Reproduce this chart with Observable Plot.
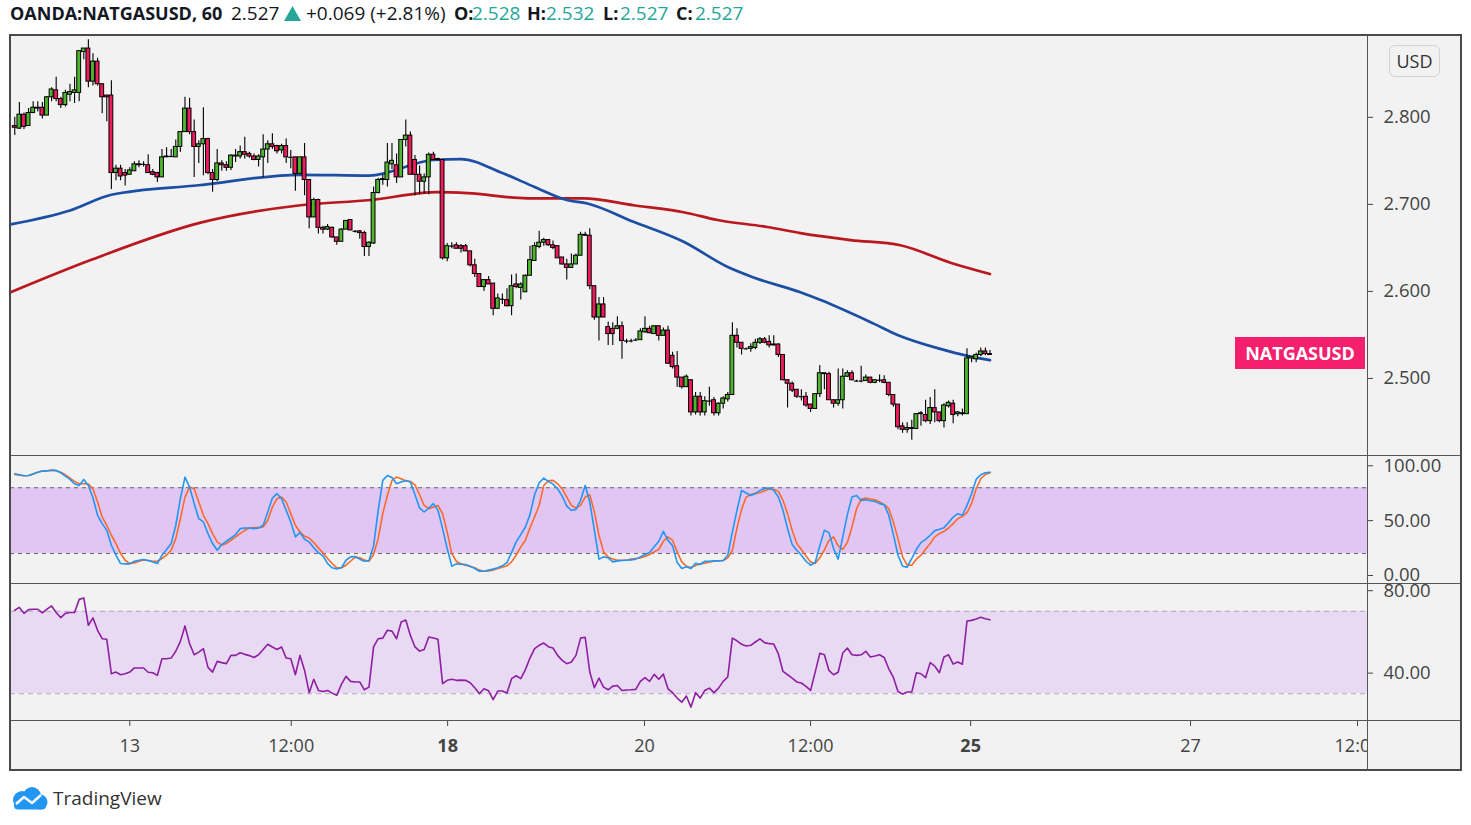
<!DOCTYPE html>
<html>
<head>
<meta charset="utf-8">
<script src="https://cdn.jsdelivr.net/npm/d3@7"></script>
<script src="https://cdn.jsdelivr.net/npm/@observablehq/plot@0.6"></script>
<style>
  html, body { margin: 0; padding: 0; background: #ffffff; }
  #root { position: relative; width: 1471px; height: 825px; font-family: "Open Sans", sans-serif; overflow: hidden; }
  #hdr { position: absolute; left: 0; top: 0; width: 900px; height: 30px; font-size: 19px; color: #131722; white-space: nowrap; }
  #hdr span { position: absolute; top: 0px; line-height: 26px; }
  #hdr .b { font-weight: 700; font-size: 18px; }
  #hdr .t { color: #26a69a; }
  #tri { position: absolute; left: 284px; top: 6px; }
  .abs { position: absolute; }
  .pane svg { display: block; overflow: visible; }
  #bg { left: 9px; top: 34px; width: 1453px; height: 737px; background: #f2f2f2; }
  #frame { left: 9px; top: 34px; width: 1453px; height: 737px; border: 2px solid #4a4a4a; box-sizing: border-box; pointer-events: none; }
  .hsep { height: 1px; background: #555; left: 10px; width: 1451px; }
  .vsep { width: 1px; background: #555; top: 35px; height: 735px; left: 1367px; }
  #usd { left: 1389px; top: 45px; width: 51px; height: 32px; border: 1px solid #d3d3d8; border-radius: 6px; box-sizing: border-box;
         font-size: 18px; color: #333; text-align: center; line-height: 30px; background: #f2f2f2; }
  #sym { height: 32px; background: #f5206d; color: #fff; font-weight: 700; font-size: 18px; line-height: 32px; padding: 0 8px; box-sizing: border-box; text-align: center; }
  #logo { left: 10px; top: 785px; display: flex; align-items: center; font-size: 19px; color: #333; }
</style>
</head>
<body>
<div id="root">
  <div id="hdr">
    <svg id="tri" width="17" height="15" viewBox="0 0 17 15"><polygon points="8.5,0 17,15 0,15" fill="#26a69a"/></svg>
  </div>
  <div id="bg" class="abs"></div>
  <div id="mainPane" class="abs pane" style="left:10px; top:35px;"></div>
  <div id="stochPane" class="abs pane" style="left:10px; top:455px;"></div>
  <div id="rsiPane" class="abs pane" style="left:10px; top:583px;"></div>
  <div id="xPane" class="abs pane" style="left:10px; top:720px; width:1357px; height:50px; overflow:hidden;"></div>
  <div class="abs hsep" style="top:455px;"></div>
  <div class="abs hsep" style="top:583px;"></div>
  <div class="abs hsep" style="top:720px;"></div>
  <div class="abs vsep"></div>
  <div id="frame" class="abs"></div>
  <div id="usd" class="abs">USD</div>
  <div id="sym" class="abs">NATGASUSD</div>
  <div id="logo" class="abs">
    <svg width="38" height="24" viewBox="0 0 38 24">
      <circle cx="12" cy="14" r="9" fill="#2196f3"/>
      <circle cx="22" cy="10" r="9" fill="#2196f3"/>
      <circle cx="30" cy="16" r="7.5" fill="#2196f3"/>
      <rect x="4" y="15" width="32" height="8.5" rx="4" fill="#2196f3"/>
      <polyline points="6,18 14,11 22,17 31,9" fill="none" stroke="#fff" stroke-width="2.4" stroke-linejoin="round"/>
    </svg>
    <span style="margin-left:5px;">TradingView</span>
  </div>
</div>
<script>
// ---------------- DATA ----------------
const symbol = "OANDA:NATGASUSD, 60";
const changeText = "+0.069 (+2.81%)";

const open = [2.790,2.787,2.803,2.790,2.805,2.810,2.811,2.802,2.823,2.831,
2.821,2.814,2.826,2.828,2.828,2.875,2.879,2.841,2.864,2.838,
2.825,2.825,2.736,2.741,2.736,2.734,2.738,2.745,2.746,2.745,
2.737,2.736,2.731,2.754,2.755,2.754,2.766,2.783,2.810,2.783,
2.766,2.769,2.775,2.736,2.728,2.747,2.745,2.742,2.756,2.755,
2.760,2.758,2.755,2.751,2.754,2.763,2.769,2.767,2.762,2.767,
2.754,2.754,2.735,2.754,2.728,2.685,2.705,2.673,2.671,2.673,
2.662,2.657,2.671,2.682,2.669,2.669,2.667,2.651,2.655,2.713,
2.728,2.728,2.746,2.745,2.731,2.774,2.779,2.751,2.734,2.726,
2.731,2.757,2.751,2.751,2.638,2.652,2.653,2.652,2.652,2.646,
2.630,2.620,2.605,2.613,2.609,2.580,2.591,2.590,2.583,2.608,
2.604,2.599,2.618,2.635,2.651,2.656,2.659,2.653,2.652,2.639,
2.631,2.627,2.631,2.641,2.665,2.664,2.606,2.570,2.585,2.559,
2.557,2.557,2.560,2.543,2.543,2.544,2.544,2.553,2.557,2.551,
2.560,2.549,2.555,2.526,2.514,2.501,2.490,2.498,2.461,2.479,
2.461,2.474,2.475,2.460,2.471,2.476,2.481,2.549,2.541,2.534,
2.534,2.535,2.541,2.545,2.542,2.538,2.539,2.527,2.498,2.494,
2.487,2.479,2.479,2.470,2.465,2.482,2.506,2.505,2.475,2.471,
2.475,2.502,2.506,2.497,2.497,2.497,2.501,2.495,2.498,2.498,
2.495,2.481,2.470,2.445,2.441,2.442,2.442,2.459,2.458,2.451,
2.466,2.461,2.451,2.468,2.471,2.459,2.459,2.459,2.523,2.522,
2.527,2.531,2.528];

const high = [2.800,2.817,2.805,2.810,2.818,2.818,2.817,2.824,2.834,2.846,
2.823,2.831,2.838,2.846,2.876,2.879,2.889,2.873,2.868,2.839,
2.825,2.842,2.745,2.745,2.740,2.742,2.749,2.750,2.749,2.757,
2.740,2.737,2.763,2.765,2.763,2.774,2.783,2.823,2.822,2.797,
2.773,2.811,2.776,2.740,2.763,2.750,2.749,2.757,2.763,2.767,
2.777,2.760,2.758,2.757,2.780,2.773,2.781,2.768,2.769,2.775,
2.762,2.754,2.754,2.770,2.728,2.707,2.706,2.675,2.677,2.674,
2.662,2.672,2.681,2.682,2.670,2.670,2.669,2.657,2.720,2.730,
2.734,2.770,2.770,2.758,2.774,2.797,2.783,2.756,2.744,2.735,
2.759,2.760,2.753,2.751,2.655,2.656,2.656,2.654,2.654,2.646,
2.637,2.620,2.613,2.617,2.609,2.597,2.597,2.603,2.619,2.620,
2.610,2.619,2.652,2.656,2.669,2.661,2.659,2.658,2.652,2.639,
2.637,2.643,2.643,2.668,2.668,2.672,2.606,2.593,2.593,2.565,
2.564,2.571,2.565,2.545,2.545,2.546,2.557,2.571,2.560,2.560,
2.560,2.558,2.560,2.530,2.531,2.501,2.504,2.498,2.484,2.484,
2.479,2.490,2.478,2.472,2.479,2.484,2.564,2.557,2.541,2.535,
2.540,2.545,2.547,2.547,2.549,2.549,2.540,2.527,2.498,2.496,
2.487,2.487,2.484,2.470,2.482,2.515,2.506,2.507,2.475,2.511,
2.511,2.509,2.509,2.498,2.514,2.504,2.501,2.498,2.504,2.503,
2.495,2.481,2.470,2.449,2.449,2.452,2.459,2.462,2.475,2.478,
2.487,2.461,2.471,2.474,2.475,2.462,2.465,2.534,2.525,2.529,
2.535,2.535,2.532];

const low = [2.779,2.786,2.786,2.790,2.804,2.806,2.798,2.802,2.818,2.818,
2.810,2.812,2.818,2.816,2.818,2.866,2.834,2.836,2.836,2.804,
2.795,2.717,2.727,2.727,2.721,2.734,2.738,2.742,2.743,2.736,
2.733,2.725,2.731,2.754,2.755,2.754,2.760,2.783,2.780,2.731,
2.747,2.733,2.734,2.714,2.726,2.738,2.738,2.739,2.748,2.752,
2.752,2.753,2.750,2.743,2.731,2.747,2.763,2.758,2.758,2.747,
2.741,2.715,2.735,2.710,2.672,2.685,2.666,2.666,2.670,2.661,
2.653,2.657,2.671,2.670,2.667,2.660,2.640,2.640,2.654,2.712,
2.722,2.720,2.740,2.724,2.731,2.766,2.734,2.710,2.711,2.712,
2.711,2.751,2.750,2.636,2.634,2.649,2.649,2.644,2.646,2.628,
2.616,2.605,2.600,2.608,2.572,2.580,2.585,2.582,2.572,2.603,
2.590,2.599,2.618,2.635,2.649,2.652,2.652,2.648,2.638,2.630,
2.613,2.627,2.631,2.641,2.663,2.602,2.567,2.543,2.570,2.538,
2.538,2.556,2.522,2.540,2.541,2.543,2.544,2.552,2.551,2.551,
2.543,2.549,2.516,2.511,2.490,2.488,2.490,2.457,2.458,2.457,
2.457,2.468,2.457,2.457,2.465,2.473,2.481,2.535,2.527,2.533,
2.530,2.533,2.539,2.540,2.535,2.537,2.524,2.497,2.466,2.484,
2.477,2.474,2.467,2.461,2.465,2.478,2.487,2.475,2.466,2.468,
2.465,2.501,2.497,2.496,2.495,2.497,2.494,2.494,2.495,2.494,
2.479,2.467,2.441,2.437,2.437,2.429,2.442,2.445,2.449,2.447,
2.449,2.449,2.443,2.466,2.448,2.456,2.457,2.459,2.518,2.518,
2.525,2.526,2.527];

const close = [2.788,2.803,2.789,2.805,2.811,2.811,2.802,2.823,2.832,2.821,
2.814,2.828,2.829,2.831,2.876,2.879,2.841,2.864,2.838,2.823,
2.823,2.736,2.741,2.732,2.733,2.739,2.746,2.746,2.746,2.736,
2.734,2.731,2.754,2.755,2.755,2.766,2.783,2.810,2.783,2.766,
2.769,2.775,2.736,2.728,2.747,2.745,2.742,2.756,2.755,2.760,
2.757,2.755,2.751,2.755,2.763,2.769,2.766,2.761,2.767,2.754,
2.754,2.735,2.754,2.728,2.685,2.705,2.673,2.671,2.674,2.662,
2.657,2.671,2.681,2.670,2.669,2.667,2.651,2.656,2.713,2.728,
2.729,2.748,2.750,2.731,2.774,2.779,2.734,2.734,2.726,2.731,
2.757,2.751,2.752,2.638,2.652,2.652,2.649,2.649,2.646,2.630,
2.620,2.605,2.613,2.608,2.580,2.592,2.591,2.583,2.606,2.605,
2.608,2.618,2.636,2.652,2.656,2.659,2.653,2.650,2.638,2.631,
2.627,2.631,2.641,2.665,2.664,2.606,2.570,2.585,2.570,2.551,
2.551,2.560,2.543,2.543,2.543,2.544,2.554,2.557,2.552,2.560,
2.549,2.555,2.517,2.513,2.501,2.490,2.502,2.461,2.479,2.461,
2.474,2.474,2.460,2.471,2.477,2.481,2.549,2.541,2.534,2.534,
2.536,2.541,2.545,2.541,2.538,2.539,2.527,2.498,2.494,2.486,
2.479,2.479,2.469,2.465,2.482,2.506,2.505,2.475,2.471,2.475,
2.502,2.506,2.498,2.497,2.497,2.501,2.495,2.498,2.498,2.495,
2.481,2.470,2.444,2.441,2.443,2.443,2.459,2.460,2.451,2.466,
2.461,2.451,2.469,2.472,2.458,2.461,2.460,2.523,2.525,2.527,
2.531,2.528,2.527];

// moving averages (read at sample bars)
const maBlueBar = [-0.9,12,21,40,62,77,91,97,106,113,120,124.5,134.5,145.4,155,160.6,170.8,175.2,186.7,191.9,201.2,207.1,212];
const maBlueVal = [2.677,2.693,2.711,2.722,2.734,2.733,2.751,2.752,2.736,2.720,2.705,2.701,2.680,2.657,2.628,2.616,2.599,2.590,2.563,2.550,2.534,2.526,2.521];
const maRedBar = [-0.9,16.5,40.4,62.1,77.3,91.9,98.4,111.4,123.6,134.5,145.4,152.8,163.6,170.8,181.7,192.5,203.4,212];
const maRedVal = [2.599,2.636,2.679,2.699,2.705,2.714,2.713,2.707,2.707,2.699,2.691,2.682,2.674,2.667,2.659,2.653,2.633,2.620];

// stochastic %K and %D
const stochK = [92.7,91.8,90.9,91.2,92.7,94.2,95.2,95.2,96.1,95.8,
93.6,90.6,87.6,83.6,82.1,87.6,82.1,70.6,54.9,47.3,
41.2,27.6,18.5,10.9,10.6,10.6,13.0,13.9,14.6,13.6,
12.4,10.9,18.5,23.6,29.1,45.8,70.0,89.7,80.6,65.5,
51.8,48.8,38.2,29.1,23.0,28.2,31.2,34.2,37.3,42.7,
43.3,43.3,42.7,43.3,45.8,57.9,70.6,74.6,70.0,59.4,
48.8,35.2,39.1,33.0,30.6,25.2,20.9,17.9,10.9,7.0,
6.0,7.0,13.9,17.0,17.3,14.9,13.0,13.6,27.0,59.4,
86.7,91.2,89.4,83.6,85.2,86.7,85.2,73.6,61.5,57.9,
61.5,65.5,59.4,42.7,24.6,8.5,10.6,10.3,10.0,8.5,
6.4,3.9,3.9,4.9,5.8,7.0,8.8,11.8,20.9,30.6,
37.3,44.2,55.5,73.6,84.6,88.8,85.8,83.3,79.1,72.4,
63.3,59.4,60.3,68.5,82.1,67.0,41.2,14.9,17.0,16.1,
12.4,13.3,13.6,13.9,14.2,14.9,17.0,19.1,20.9,26.1,
31.2,40.3,32.1,27.0,11.8,6.4,7.9,6.4,11.2,10.0,
13.0,13.0,13.3,13.3,13.6,18.5,39.7,59.4,77.6,75.2,
73.0,74.6,77.6,79.4,79.7,77.6,71.5,59.4,42.7,28.2,
23.0,18.5,13.0,9.4,11.8,27.0,41.2,39.1,24.6,14.9,
35.2,55.5,71.5,73.0,68.5,69.1,68.2,67.6,65.5,64.6,
54.9,37.3,18.5,8.5,7.6,15.5,23.9,30.0,33.0,36.7,
40.9,42.1,43.6,48.2,53.3,56.4,54.9,63.9,74.6,87.6,
91.8,93.6,94.2];

const stochD = [92.1,91.5,90.9,91.2,92.4,94.2,95.2,95.5,95.8,95.5,
94.2,91.8,88.8,85.8,83.6,83.6,83.3,79.1,67.0,53.3,
45.8,36.7,29.1,20.0,13.9,10.9,11.5,13.0,14.2,13.6,
13.0,13.0,15.5,18.5,23.0,33.6,51.8,71.5,80.6,79.1,
67.0,54.9,47.3,38.2,30.6,27.6,29.1,32.1,35.2,38.2,
41.2,43.3,43.6,43.6,44.2,50.3,62.4,70.0,71.5,67.0,
56.4,45.8,39.7,35.8,34.2,30.0,25.2,20.6,15.5,10.9,
7.0,7.0,9.4,13.0,16.7,16.1,14.2,13.0,19.1,33.6,
56.4,73.0,86.7,89.7,88.2,86.1,85.8,82.7,73.6,63.9,
60.9,62.4,63.9,56.4,39.7,20.0,13.0,10.6,9.4,8.2,
7.0,4.9,3.9,4.2,4.9,6.4,7.6,8.8,12.4,18.5,
26.1,32.1,43.3,53.3,63.9,82.1,86.4,86.7,83.6,79.1,
71.5,63.9,61.5,63.9,71.5,73.6,57.9,36.7,21.5,17.0,
14.9,13.9,13.9,13.9,14.9,15.5,16.1,17.3,19.1,21.5,
23.9,31.2,35.2,32.1,21.5,12.4,8.5,7.3,9.1,10.6,
11.2,12.4,13.0,13.3,13.6,16.1,23.0,43.3,60.3,71.5,
73.9,74.9,75.5,77.3,78.8,78.5,76.7,68.5,56.4,41.2,
29.1,23.6,17.9,12.4,10.9,16.1,23.3,32.1,35.2,27.0,
23.9,30.0,44.2,60.9,69.4,70.6,69.7,69.1,67.0,64.6,
60.9,48.8,33.6,17.0,9.4,9.4,14.9,18.5,23.9,29.1,
35.2,38.2,40.3,43.3,47.3,51.8,53.9,57.3,65.5,79.1,
88.2,92.1,93.6];

const rsi = [70.5,71.9,69.0,70.8,71.0,71.0,69.2,71.1,72.6,69.4,
66.9,69.0,69.4,69.4,75.8,76.5,63.2,66.8,60.8,56.7,
56.4,39.7,40.5,39.2,39.7,40.5,42.5,42.5,42.5,40.4,
40.2,38.9,47.0,47.0,47.3,50.6,55.4,62.9,54.3,48.9,
50.2,51.9,42.8,40.5,45.7,45.1,44.6,48.6,48.6,49.9,
49.1,48.5,47.6,48.9,51.5,54.0,52.7,51.5,52.7,47.3,
47.0,39.2,48.6,41.3,30.5,37.0,31.6,31.1,31.6,30.3,
29.2,34.5,38.4,36.0,35.7,35.7,31.9,33.2,52.7,56.7,
57.0,60.8,60.4,56.7,64.8,65.8,58.3,52.7,50.7,51.5,
57.5,57.0,56.4,34.9,36.5,37.0,36.5,36.6,36.5,35.3,
32.9,30.0,32.4,31.4,27.1,31.3,31.3,30.3,37.3,38.7,
37.3,41.7,47.3,51.9,53.5,54.6,52.8,52.2,48.6,46.2,
44.6,45.4,48.6,57.0,57.4,40.5,32.9,37.6,33.2,31.9,
33.7,34.0,31.6,31.8,31.9,32.1,36.0,37.8,36.0,39.4,
37.0,39.5,32.4,30.5,27.9,25.9,28.9,23.5,30.5,27.9,
31.6,32.7,30.5,32.7,36.0,38.1,57.0,55.7,54.0,53.2,
53.5,55.1,56.6,54.8,54.3,54.1,49.3,40.8,39.2,37.6,
35.7,35.2,33.6,31.6,40.5,49.6,48.9,41.3,39.2,40.4,
49.8,52.2,48.9,48.6,48.9,50.6,47.8,48.3,48.9,47.6,
42.1,37.9,31.1,29.8,30.8,30.8,40.2,39.7,37.8,45.1,
43.4,40.2,47.8,48.9,44.4,45.4,44.3,65.3,65.6,66.3,
67.1,66.4,65.9];

const stochBand = [20, 80];
const rsiBand = [30, 70];

const priceTicks = [2.5, 2.6, 2.7, 2.8];
const stochTicks = [0, 50, 100];
const rsiTicks = [40, 80];

const xTickBar = [25.0, 60.1, 94.1, 136.9, 173.0, 207.8, 255.6, 291.9];
const xTickLabel = ["13", "12:00", "18", "20", "12:00", "25", "27", "12:00"];
const xTickBold = [false, false, true, false, false, true, false, false];

// ---------------- BUILD ----------------
const bars = open.map((o, i) => ({i, open: o, high: high[i], low: low[i], close: close[i]}));
const dojis = bars.filter(d => Math.abs(d.close - d.open) < 0.0008);
const blueMA = maBlueBar.map((b, k) => ({i: b, v: maBlueVal[k]}));
const redMA = maRedBar.map((b, k) => ({i: b, v: maRedVal[k]}));
const kPts = stochK.map((v, i) => ({i, v}));
const dPts = stochD.map((v, i) => ({i, v}));
const rPts = rsi.map((v, i) => ({i, v}));

const last = bars[bars.length - 1];
// header pieces: [text, class, left]
const hdrParts = [
  [symbol, "b", 10],
  [last.close.toFixed(3), "", 231],
  [changeText, "", 306],
  ["O:", "b", 454],
  [last.open.toFixed(3), "t", 472],
  ["H:", "b", 527],
  [last.high.toFixed(3), "t", 546],
  ["L:", "b", 603],
  [last.low.toFixed(3), "t", 620],
  ["C:", "b", 676],
  [last.close.toFixed(3), "t", 695]
];
const hdr = document.getElementById("hdr");
hdrParts.forEach(([txt, cls, left]) => {
  const s = document.createElement("span");
  s.className = cls;
  s.textContent = txt;
  s.style.left = left + "px";
  hdr.appendChild(s);
});

const W = 1451, MR = 94;
const xDomain = [-0.93, 294.07];
const GREEN = "#4fb52f", RED = "#f01a5d";
const baseStyle = {background: "transparent", fontFamily: "Open Sans, sans-serif", fontSize: "18.5px", color: "#444", overflow: "visible"};

const mainChart = Plot.plot({
  width: W, height: 420, marginLeft: 0, marginRight: MR, marginTop: 0, marginBottom: 0,
  style: baseStyle,
  x: {domain: xDomain, axis: null},
  y: {domain: [2.4115, 2.894], axis: "right", ticks: priceTicks, tickFormat: d3.format(".3f"), tickSize: 5, tickPadding: 11, label: null},
  marks: [
    Plot.line(redMA, {x: "i", y: "v", curve: "monotone-x", stroke: "#b8181e", strokeWidth: 2.7, clip: true}),
    Plot.line(blueMA, {x: "i", y: "v", curve: "monotone-x", stroke: "#1c4ea3", strokeWidth: 2.7, clip: true}),
    Plot.ruleX(bars, {x: "i", y1: "low", y2: "high", stroke: "#000", strokeWidth: 1.1, clip: true}),
    Plot.rect(bars, {x1: d => d.i - 0.42, x2: d => d.i + 0.42, y1: "open", y2: "close",
      fill: d => d.close >= d.open ? GREEN : RED, stroke: "#000", strokeWidth: 1, clip: true}),
    Plot.ruleY(dojis, {y: "close", x1: d => d.i - 0.45, x2: d => d.i + 0.45, stroke: "#000", strokeWidth: 1.2, clip: true})
  ]
});
document.getElementById("mainPane").appendChild(mainChart);

const stochChart = Plot.plot({
  width: W, height: 128, marginLeft: 0, marginRight: MR, marginTop: 0, marginBottom: 0,
  style: baseStyle,
  x: {domain: xDomain, axis: null},
  y: {domain: [-7.3, 109.4], axis: "right", ticks: stochTicks, tickFormat: d3.format(".2f"), tickSize: 5, tickPadding: 11, label: null},
  marks: [
    Plot.rectY([stochBand], {y1: d => d[0], y2: d => d[1], fill: "#e1c6f4"}),
    Plot.ruleY(stochBand, {stroke: "#666", strokeDasharray: "4,4", strokeWidth: 1}),
    Plot.line(dPts, {x: "i", y: "v", stroke: "#fb6a2a", strokeWidth: 1.6, clip: true}),
    Plot.line(kPts, {x: "i", y: "v", stroke: "#2196f3", strokeWidth: 1.6, clip: true})
  ]
});
document.getElementById("stochPane").appendChild(stochChart);

const rsiChart = Plot.plot({
  width: W, height: 137, marginLeft: 0, marginRight: MR, marginTop: 0, marginBottom: 0,
  style: baseStyle,
  x: {domain: xDomain, axis: null},
  y: {domain: [17.0, 83.5], axis: "right", ticks: rsiTicks, tickFormat: d3.format(".2f"), tickSize: 5, tickPadding: 11, label: null},
  marks: [
    Plot.rectY([rsiBand], {y1: d => d[0], y2: d => d[1], fill: "#e9daf3"}),
    Plot.ruleY(rsiBand, {stroke: "#b7a6c4", strokeDasharray: "5,4", strokeWidth: 1}),
    Plot.line(rPts, {x: "i", y: "v", stroke: "#8e1fa3", strokeWidth: 1.6, clip: true})
  ]
});
document.getElementById("rsiPane").appendChild(rsiChart);

const regTicks = xTickBar.filter((b, k) => !xTickBold[k]);
const boldTicks = xTickBar.filter((b, k) => xTickBold[k]);
const labelOf = b => xTickLabel[xTickBar.indexOf(b)];
const xChart = Plot.plot({
  width: W - MR, height: 50, marginLeft: 0, marginRight: 0, marginTop: 0, marginBottom: 50,
  style: {...baseStyle, fontSize: "18px"},
  x: {domain: xDomain, label: null},
  marks: [
    Plot.axisX(regTicks, {anchor: "bottom", tickSize: 6, tickPadding: 13, tickFormat: labelOf, label: null}),
    Plot.axisX(boldTicks, {anchor: "bottom", tickSize: 6, tickPadding: 13, tickFormat: labelOf, fontWeight: "bold", label: null})
  ]
});
document.getElementById("xPane").appendChild(xChart);

// symbol label placed at last close via the main y scale
const yLast = mainChart.scale("y").apply(last.close);
const sym = document.getElementById("sym");
sym.style.top = (35 + yLast - 17) + "px";
sym.style.left = (1365 - 130) + "px";
sym.style.width = "130px";
</script>
</body>
</html>
